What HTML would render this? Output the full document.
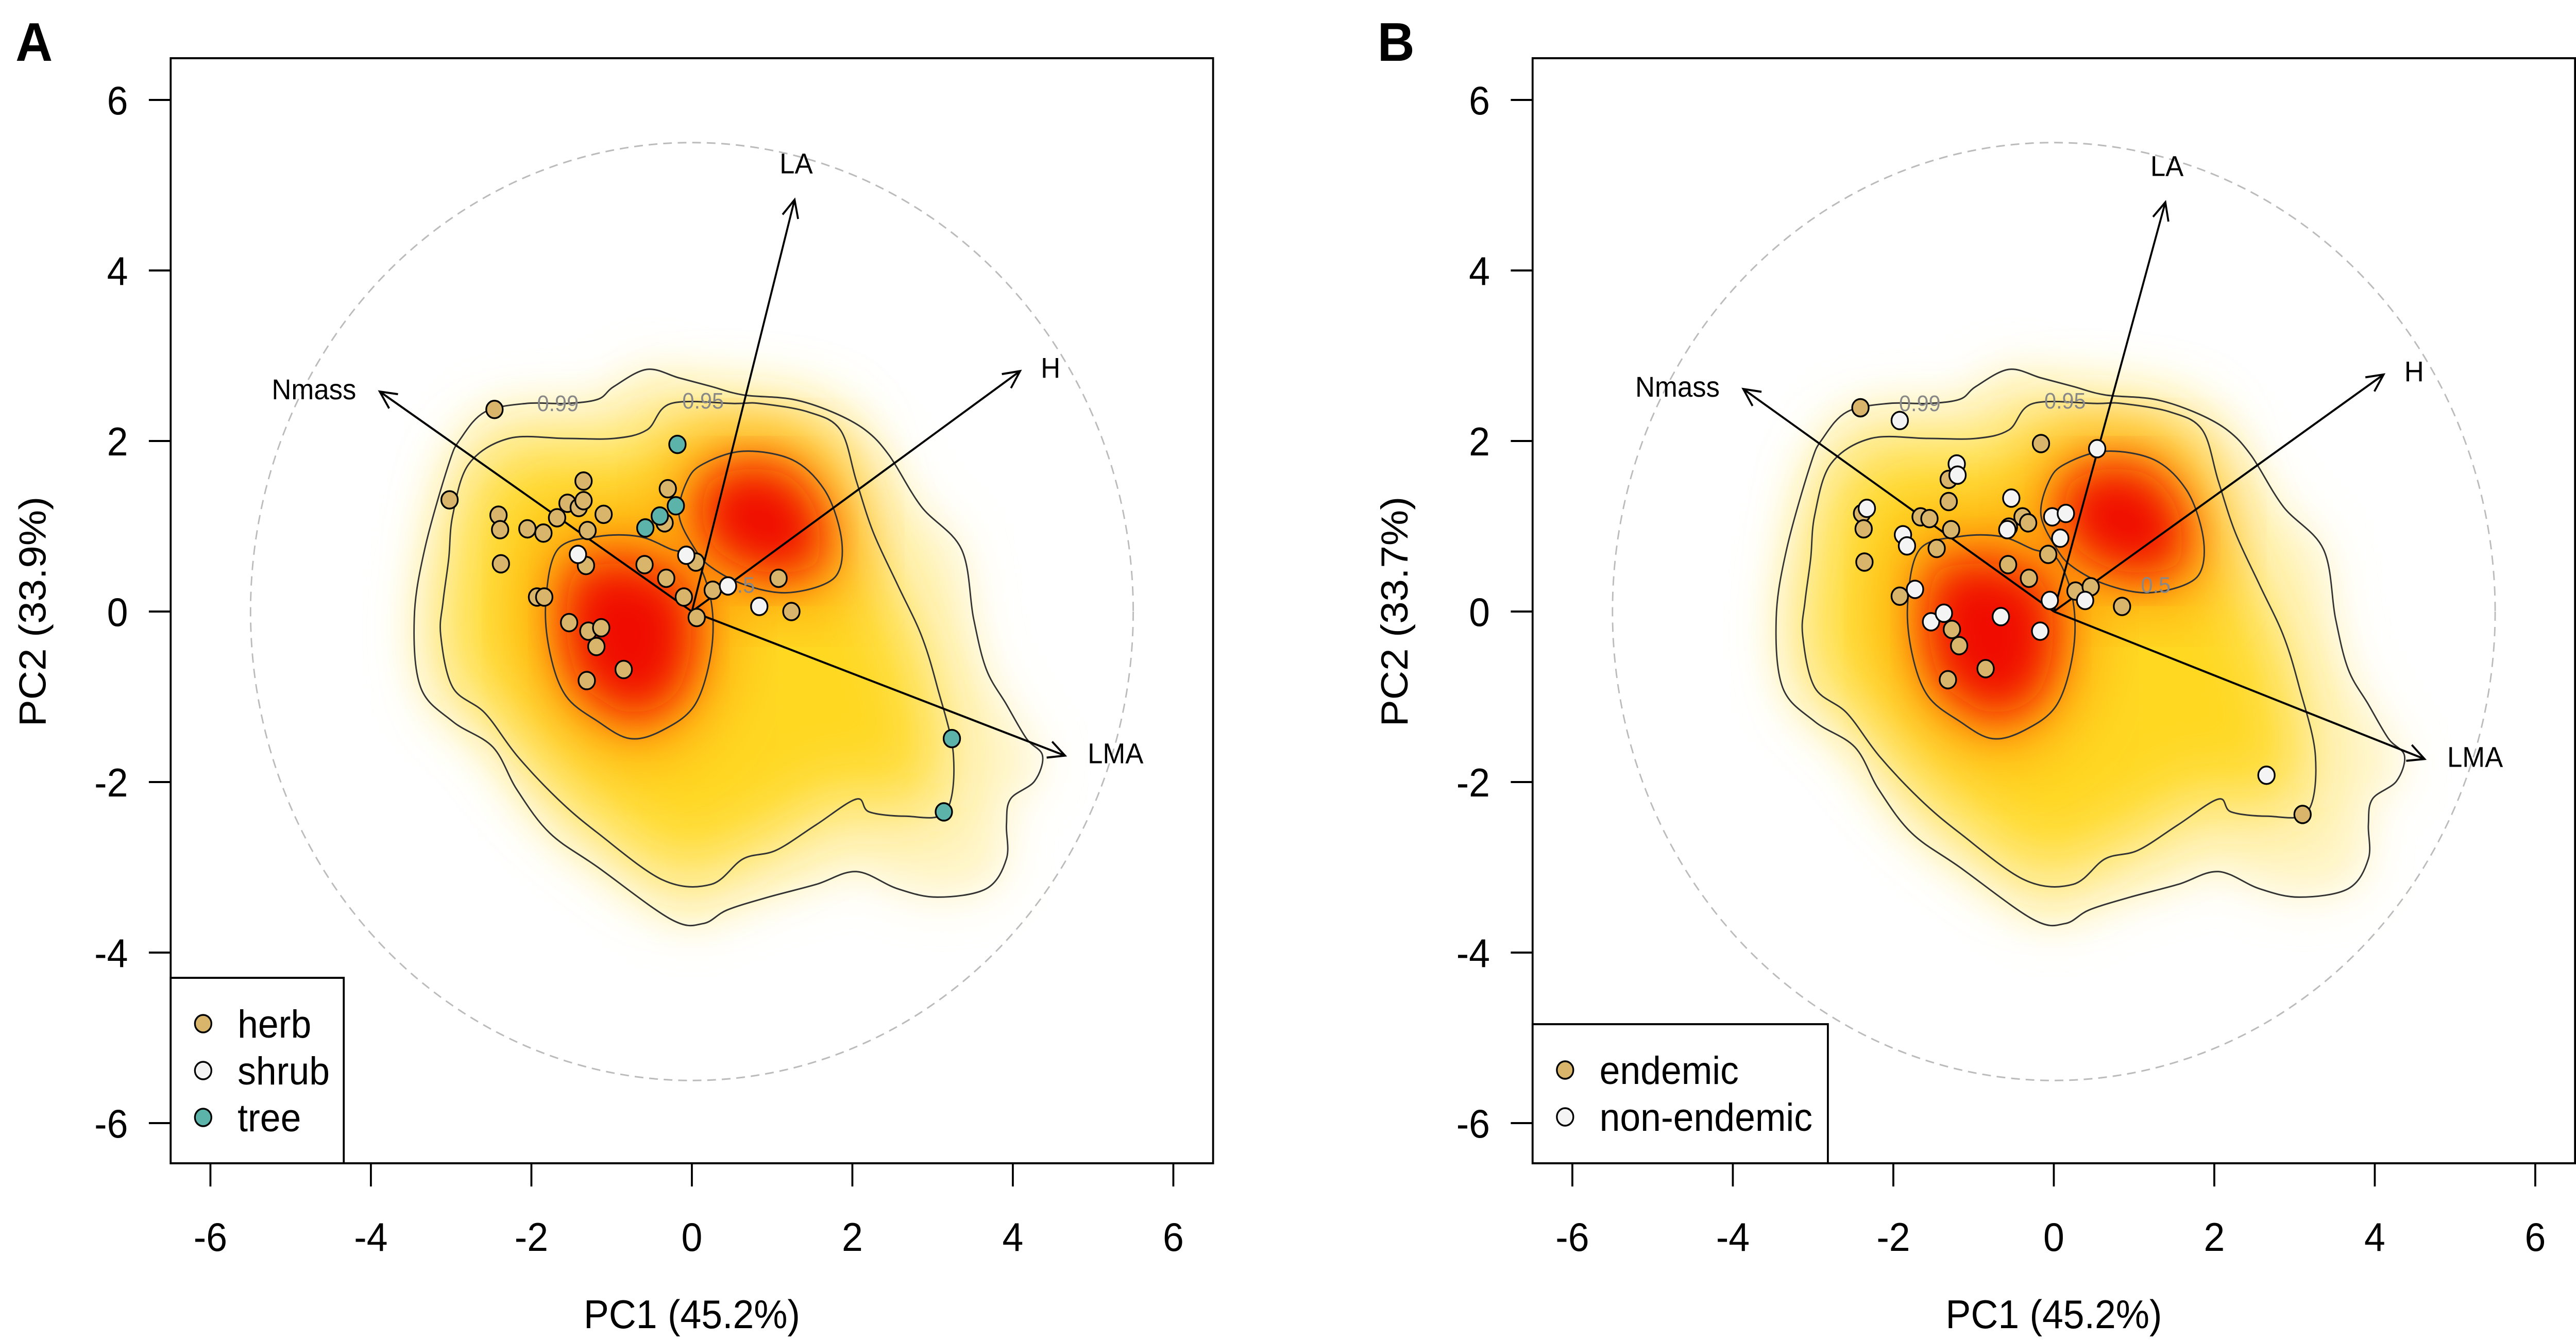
<!DOCTYPE html>
<html><head><meta charset="utf-8"><style>
html,body{margin:0;padding:0;background:#fff;width:100%;height:100%;overflow:hidden;}
svg{display:block;width:100vw;height:100vh;}
text{font-family:"Liberation Sans",Arial,sans-serif;}
</style></head><body>
<svg id="fig" viewBox="0 0 5313 2601" preserveAspectRatio="none" xmlns="http://www.w3.org/2000/svg">
<defs>
<filter id="b1" x="-30%" y="-30%" width="160%" height="160%"><feGaussianBlur stdDeviation="45"/></filter>
<filter id="b2" x="-30%" y="-30%" width="160%" height="160%"><feGaussianBlur stdDeviation="70"/></filter>
<filter id="b3" x="-30%" y="-30%" width="160%" height="160%"><feGaussianBlur stdDeviation="45"/></filter>
</defs>
</svg>
<script>
const outerContour=[[-3.03,1.73],[-3.33,0.73],[-3.46,-0.08],[-3.38,-0.89],[-2.98,-1.29],[-2.48,-1.59],[-2.18,-2.09],[-1.77,-2.6],[-1.17,-3.0],[-0.26,-3.61],[0.14,-3.66],[0.44,-3.5],[0.95,-3.35],[1.55,-3.2],[2.05,-3.05],[2.56,-3.25],[3.06,-3.35],[3.67,-3.25],[3.92,-2.9],[3.92,-2.5],[3.97,-2.2],[4.27,-1.99],[4.37,-1.69],[4.17,-1.49],[3.92,-1.09],[3.67,-0.68],[3.51,-0.08],[3.36,0.73],[2.86,1.23],[2.46,1.83],[2.16,2.13],[1.75,2.34],[1.25,2.49],[0.64,2.54],[0.24,2.64],[-0.16,2.74],[-0.56,2.84],[-0.97,2.64],[-1.17,2.49],[-1.57,2.44],[-2.07,2.44],[-2.58,2.34],[-2.88,2.03]];
const innerContour=[[-3.1,0.12],[-3.13,-0.28],[-2.98,-0.89],[-2.58,-1.19],[-2.18,-1.69],[-1.67,-2.2],[-1.17,-2.6],[-0.36,-3.15],[0.24,-3.2],[0.64,-2.9],[1.05,-2.8],[1.55,-2.5],[2.05,-2.2],[2.21,-2.35],[2.66,-2.4],[3.16,-2.35],[3.26,-1.69],[3.06,-0.89],[2.86,-0.28],[2.56,0.32],[2.26,0.93],[2.05,1.53],[1.85,2.13],[1.45,2.34],[0.85,2.44],[0.54,2.44],[-0.26,2.44],[-0.56,2.13],[-0.97,2.03],[-1.57,2.03],[-2.28,2.03],[-2.78,1.73],[-2.98,1.13],[-3.03,0.62]];
const upperBlob=[[-0.06,1.53],[0.14,1.73],[0.64,1.88],[1.25,1.78],[1.65,1.43],[1.85,0.93],[1.85,0.52],[1.65,0.32],[1.15,0.22],[0.64,0.32],[0.24,0.52],[0.04,0.73],[-0.16,1.13]];
const lowerBlob=[[-1.67,0.73],[-1.17,0.88],[-0.66,0.88],[-0.26,0.73],[0.04,0.62],[0.24,0.12],[0.24,-0.48],[0.04,-1.09],[-0.36,-1.39],[-0.77,-1.49],[-1.17,-1.29],[-1.57,-0.99],[-1.77,-0.48],[-1.82,0.12]];
const tickValues=[-6,-4,-2,0,2,4,6];
const tickLabels=["-6","-4","-2","0","2","4","6"];
const traitNames=["LA","H","Nmass","LMA"];
const arrowsA=[[1.28,4.83],[4.09,2.82],[-3.89,2.58],[4.65,-1.69]];
const arrowsB=[[1.39,4.80],[4.11,2.78],[-3.87,2.61],[4.62,-1.73]];
const herbA=[[-2.46,2.37],[-3.02,1.31],[-2.41,1.13],[-2.39,0.96],[-2.38,0.56],[-2.05,0.97],[-1.85,0.92],[-1.68,1.1],[-1.55,1.27],[-1.41,1.22],[-1.35,1.3],[-1.35,1.53],[-1.1,1.14],[-1.3,0.95],[-1.32,0.54],[-1.93,0.17],[-1.84,0.17],[-1.53,-0.13],[-1.29,-0.23],[-1.13,-0.19],[-1.19,-0.41],[-0.85,-0.68],[-1.31,-0.81],[-0.59,0.55],[-0.32,0.39],[-0.1,0.17],[0.05,0.58],[0.06,-0.07],[0.26,0.25],[1.08,0.39],[1.24,0.0],[-0.3,1.44],[-0.34,1.04]];
const shrubA=[[-1.42,0.67],[-0.07,0.66],[0.45,0.3],[0.84,0.06]];
const treeA=[[-0.18,1.96],[-0.2,1.24],[-0.4,1.12],[-0.58,0.98],[3.24,-1.49],[3.14,-2.35]];
const endemicB=[[-2.41,2.39],[-0.16,1.97],[-1.31,1.55],[-1.31,1.29],[-1.66,1.11],[-1.55,1.09],[-1.28,0.96],[-2.39,1.15],[-2.37,0.97],[-2.36,0.58],[-1.46,0.74],[-1.92,0.18],[-0.56,0.99],[-0.39,1.11],[-0.32,1.04],[-0.57,0.55],[-0.31,0.39],[-0.07,0.67],[0.27,0.24],[0.46,0.29],[0.85,0.06],[-1.27,-0.21],[-1.18,-0.4],[-0.85,-0.67],[-1.32,-0.8],[3.1,-2.38]];
const nonEndemicB=[[-1.92,2.24],[-1.21,1.73],[-1.2,1.6],[-2.33,1.21],[-1.88,0.9],[-1.83,0.77],[-1.73,0.26],[-1.53,-0.12],[-1.37,-0.02],[-0.66,-0.06],[-0.17,-0.23],[-0.53,1.33],[-0.58,0.96],[-0.02,1.11],[0.15,1.15],[0.08,0.86],[-0.05,0.13],[0.39,0.13],[0.54,1.91],[2.65,-1.92]];

const NS="http://www.w3.org/2000/svg";
const svg=document.getElementById('fig');
function mk(tag,attrs,parent,txt){const e=document.createElementNS(NS,tag);for(const k in attrs)e.setAttribute(k,attrs[k]);if(txt!==undefined)e.textContent=txt;(parent||svg).appendChild(e);return e;}
function smooth(P){ // closed Catmull-Rom
  const n=P.length;let d='M'+P[0][0].toFixed(1)+','+P[0][1].toFixed(1);
  for(let i=0;i<n;i++){const p0=P[(i-1+n)%n],p1=P[i],p2=P[(i+1)%n],p3=P[(i+2)%n];
    const c1=[p1[0]+(p2[0]-p0[0])/6,p1[1]+(p2[1]-p0[1])/6],c2=[p2[0]-(p3[0]-p1[0])/6,p2[1]-(p3[1]-p1[1])/6];
    d+='C'+c1[0].toFixed(1)+','+c1[1].toFixed(1)+' '+c2[0].toFixed(1)+','+c2[1].toFixed(1)+' '+p2[0].toFixed(1)+','+p2[1].toFixed(1);}
  return d+'Z';}

function panel(o){
  const L=o.left,T=113,R=o.left+2150,B=2258,U=165.5,X0=o.left+1075,Y0=1187;
  const sx=v=>X0+v*U, sy=v=>Y0-v*U;
  const g=mk('g',{});
  
  
  const cp=mk('clipPath',{id:'clip'+o.id},g);
  mk('rect',{x:L,y:T,width:R-L,height:B-T},cp);
  const pth=a=>smooth(a.map(p=>[sx(p[0]),sy(p[1])]));
  const scaled=(a,cx,cy,k)=>a.map(p=>[cx+(p[0]-cx)*k,cy+(p[1]-cy)*k]);
  const dg=mk('g',{'clip-path':'url(#clip'+o.id+')'},g);
  
  
  mk('path',{d:pth(outerContour),fill:'#fff4c4',filter:'url(#b1)'},dg);
  mk('path',{d:pth(scaled(innerContour,0,-0.3,0.95)),fill:'#ffd820',filter:'url(#b2)'},dg);
  mk('path',{d:pth(scaled(upperBlob,0.85,1.1,1.1)),fill:'#ff8c00',filter:'url(#b2)'},dg);
  mk('path',{d:pth(scaled(lowerBlob,-0.8,-0.4,1.1)),fill:'#ff8c00',filter:'url(#b2)'},dg);
  mk('path',{d:pth(scaled(upperBlob,0.85,1.1,0.75)),fill:'#f01000',filter:'url(#b3)'},dg);
  mk('path',{d:pth(scaled(lowerBlob,-0.8,-0.4,0.75)),fill:'#f01000',filter:'url(#b3)'},dg);
  [['contour-99',outerContour],['contour-95',innerContour],['contour-50-upper',upperBlob],['contour-50-lower',lowerBlob]].forEach(c=>{
    const p=mk('path',{d:pth(c[1]),fill:'none',stroke:'#333',"stroke-width":3},g);
    
    
  });
  [['0.99',-1.67,2.44],['0.95',0.14,2.47],['0.5',o.id==='B'?1.27:0.6,0.31]].forEach(c=>{
    const t=mk('text',{x:sx(c[1]),y:sy(c[2])+15,'font-size':44,fill:'#888','text-anchor':'middle'},g,c[0]);
    
    
  });
  const ci=mk('circle',{cx:sx(0),cy:sy(0),r:5.5*U,fill:'none',stroke:'#bbb','stroke-width':3,'stroke-dasharray':'18 12'},g);
  
  
  const labOff=[[0.02,0.43],[0.38,0.04],[-0.82,0.03],[0.63,0.03]];
  o.arrows.forEach((a,i)=>{
    const x2=sx(a[0]),y2=sy(a[1]),x1=sx(0),y1=sy(0);
    const ang=Math.atan2(y2-y1,x2-x1),h=38,sp=0.45;
    const ag=mk('g',{},g);
    
    
    mk('line',{x1:x1,y1:y1,x2:x2,y2:y2,stroke:'#000','stroke-width':4},ag);
    mk('polyline',{points:(x2-h*Math.cos(ang-sp))+','+(y2-h*Math.sin(ang-sp))+' '+x2+','+y2+' '+(x2-h*Math.cos(ang+sp))+','+(y2-h*Math.sin(ang+sp)),fill:'none',stroke:'#000','stroke-width':4},ag);
    const t=mk('text',{x:sx(a[0]+labOff[i][0]),y:sy(a[1]+labOff[i][1])+20,'font-size':56,'text-anchor':'middle'},ag,traitNames[i]);
    
    
  });
  o.groups.forEach(gr=>{
    const pg=mk('g',{},g);
    
    
    gr.data.forEach(p=>{
      const c=mk('circle',{cx:sx(p[0]),cy:sy(p[1]),r:17,fill:gr.color,stroke:'#000','stroke-width':3.5},pg);
      
      
    });
  });
  const fr=mk('rect',{x:L,y:T,width:R-L,height:B-T,fill:'none',stroke:'#000','stroke-width':4},g);
  
  
  const xa=mk('g',{},g);
  const ya=mk('g',{},g);
  tickValues.forEach((v,i)=>{
    mk('line',{x1:sx(v),x2:sx(v),y1:B,y2:B+45,stroke:'#000','stroke-width':4},xa);
    const tx=mk('text',{x:sx(v),y:2428,'font-size':78,'text-anchor':'middle'},xa,tickLabels[i]);
    
    mk('line',{x1:L,x2:L-45,y1:sy(v),y2:sy(v),stroke:'#000','stroke-width':4},ya);
    const ty=mk('text',{x:L-88,y:sy(v)+28,'font-size':78,'text-anchor':'end'},ya,tickLabels[i]);
    
  });
  const xt=mk('text',{x:X0,y:2578,'font-size':78,'text-anchor':'middle'},g,'PC1 (45.2%)');
  
  const yt=mk('text',{x:0,y:0,'font-size':78,'text-anchor':'middle',transform:'translate('+(L-258)+','+Y0+') rotate(-90)'},g,o.ylab);
  
  const pl=mk('text',{x:L-320,y:118,'font-size':106,'font-weight':'bold','text-anchor':'start'},g,o.id);
  
  const lg=mk('g',{},g);
  const lh=o.groups.length*90+90, lt=B-lh;
  mk('rect',{x:L,y:lt,width:o.legW,height:lh,fill:'#fff',stroke:'#000','stroke-width':4},lg);
  o.groups.forEach((gr,i)=>{
    const cy=lt+89+i*91;
    const e=mk('g',{},lg);
    mk('circle',{cx:L+67,cy:cy,r:17,fill:gr.color,stroke:'#000','stroke-width':3.5},e);
    mk('text',{x:L+138,y:cy+27,'font-size':76},e,gr.name);
  });
}
panel({id:'A',left:352,ylab:'PC2 (33.9%)',arrows:arrowsA,legW:357,groups:[{name:'herb',color:'#D8B56B',data:herbA},{name:'shrub',color:'#F4F4F4',data:shrubA},{name:'tree',color:'#5BB3AA',data:treeA}]});
panel({id:'B',left:3161,ylab:'PC2 (33.7%)',arrows:arrowsB,legW:609,groups:[{name:'endemic',color:'#D8B56B',data:endemicB},{name:'non-endemic',color:'#F4F4F4',data:nonEndemicB}]});
</script>
</body></html>
